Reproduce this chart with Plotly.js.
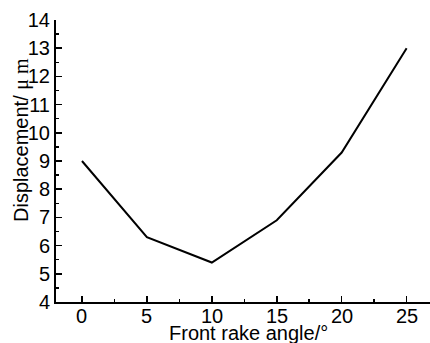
<!DOCTYPE html>
<html><head><meta charset="utf-8">
<script src="https://cdn.plot.ly/plotly-3.0.1.min.js"></script>
<style>html,body{margin:0;padding:0;background:#fff}#c{width:430px;height:343px}</style>
</head><body><div id="c"></div>
<script>
const angles = [0, 5, 10, 15, 20, 25];
const displacement = [9.0, 6.3, 5.4, 6.9, 9.3, 13.0];
const xTicks = [0, 5, 10, 15, 20, 25];
const yTicks = [4, 5, 6, 7, 8, 9, 10, 11, 12, 13, 14];
const xTitle = 'Front rake angle/°';
const yTitle = 'Displacement/ <span style="font-family:Liberation Serif, Times New Roman, serif">μ m</span>';
const font = 'Liberation Sans, Arial, sans-serif';
const L = 56, R = 0, T = 20, B = 41, W = 430, H = 343;
const xLabelAnns = xTicks.map(v => ({
  text: String(v), xref: 'x', yref: 'paper', x: v, y: 0, yanchor: 'top', xanchor: 'center',
  yshift: -1, showarrow: false, font: {size: 20, family: font}
}));
Plotly.newPlot('c', [{
  x: angles, y: displacement, type: 'scatter', mode: 'lines',
  line: {color: '#000', width: 2}, cliponaxis: false
}], {
  width: W, height: H,
  margin: {l: L, r: R, t: T, b: B},
  paper_bgcolor: '#fff', plot_bgcolor: '#fff',
  showlegend: false,
  font: {family: font, color: '#000', size: 20},
  xaxis: {
    range: [-2.0, 26.8], tickvals: xTicks, ticks: 'inside', ticklen: 6, tickwidth: 1.5,
    tickcolor: '#000', showline: true, linecolor: '#000', linewidth: 2,
    showgrid: false, zeroline: false, showticklabels: false,
    minor: {dtick: 2.5, tick0: 0, ticks: 'inside', ticklen: 3, tickcolor: '#000', tickwidth: 1.5, showgrid: false}
  },
  yaxis: {
    range: [4, 14], tickvals: yTicks, ticks: 'inside', ticklen: 6, tickwidth: 1.5,
    tickcolor: '#000', showline: true, linecolor: '#000', linewidth: 2,
    showgrid: false, zeroline: false, tickfont: {size: 20, family: font},
    minor: {dtick: 0.5, tick0: 4, ticks: 'inside', ticklen: 3, tickcolor: '#000', tickwidth: 1.5, showgrid: false}
  },
  annotations: xLabelAnns.concat([
    {text: xTitle, xref: 'paper', yref: 'paper', x: (248 - L) / (W - L - R), y: -(333 - (H - B)) / (H - T - B),
     xanchor: 'center', yanchor: 'middle', showarrow: false, font: {size: 20, family: font}},
    {text: yTitle, xref: 'paper', yref: 'paper', x: -(L - 21) / (W - L - R), y: (H - B - 140) / (H - T - B),
     xanchor: 'center', yanchor: 'middle', textangle: -90, showarrow: false, font: {size: 20, family: font}}
  ])
}, {staticPlot: true});
</script></body></html>
